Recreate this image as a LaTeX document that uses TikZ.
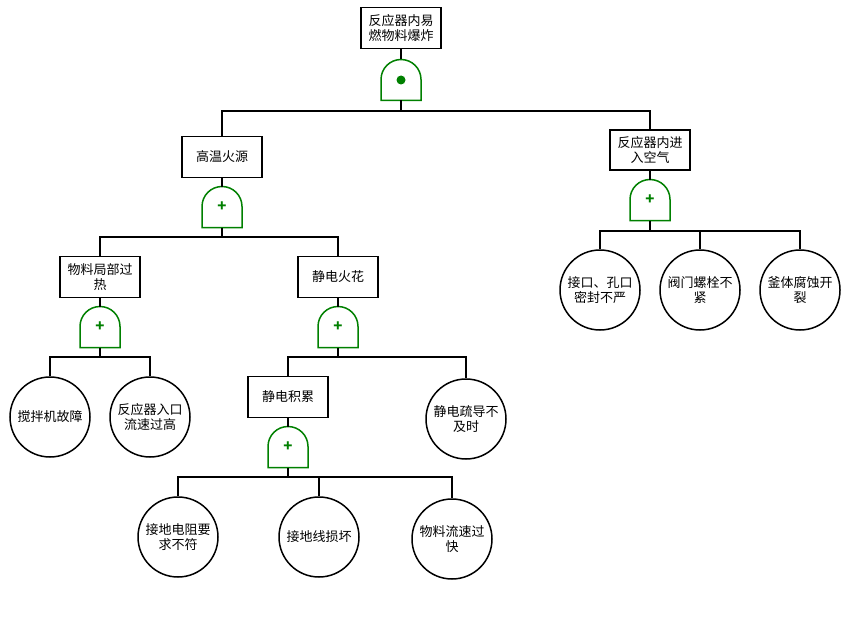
\documentclass[tikz,border=0pt]{standalone}
\usepackage{fontspec}
\setmainfont{Noto Sans CJK SC}
\begin{document}
\begin{tikzpicture}[x=1pt,y=1pt,
  line width=1.5pt,
  box/.style={draw=black,fill=white,minimum width=80pt,minimum height=41pt,inner sep=1pt,align=center,font=\fontsize{13}{15}\selectfont},
  evt/.style={draw=black,fill=white,circle,minimum size=80pt,inner sep=0pt,align=center,font=\fontsize{13}{15}\selectfont},
  gateline/.style={draw=green!50!black,line width=1.5pt,fill=white},
  orgate/.pic={
    \path[gateline] (-20,-20.5) -- (-20,0.5) arc[start angle=180,end angle=0,radius=20] -- (20,-20.5) -- cycle;
    \node[text=green!50!black,font=\bfseries\fontsize{15}{15}\selectfont,inner sep=0pt] at (0,0) {+};
    \coordinate (-out) at (0,20.5);
    \coordinate (-in) at (0,-20.5);
  },
  andgate/.pic={
    \path[gateline] (-20,-20.5) -- (-20,0.5) arc[start angle=180,end angle=0,radius=20] -- (20,-20.5) -- cycle;
    \fill[green!50!black] (0,0) circle[radius=4.5];
    \coordinate (-out) at (0,20.5);
    \coordinate (-in) at (0,-20.5);
  }]
\useasboundingbox (0,0) rectangle (850,-639);
\fill[white] (0,0) rectangle (850,-639);

% top
\node[box] (T) at (401,-28) {反应器内易\\燃物料爆炸};
\pic (G0) at (401,-80) {andgate};
\coordinate (G0-bus) at (401,-111);

\node[box] (A) at (222,-157) {高温火源};
\pic (G1) at (222,-207) {orgate};
\coordinate (G1-bus) at (222,-237);

\node[box,minimum height=40pt] (B) at (650,-150) {反应器内进\\入空气};
\pic (G2) at (650,-200) {orgate};
\coordinate (G2-bus) at (650,-231);

\node[box] (C) at (100,-277) {物料局部过\\热};
\pic (G3) at (100,-327) {orgate};
\coordinate (G3-bus) at (100,-357);

\node[box] (D) at (338,-277) {静电火花};
\pic (G4) at (338,-327) {orgate};
\coordinate (G4-bus) at (338,-357);

\node[box] (E) at (288,-397) {静电积累};
\pic (G5) at (288,-447) {orgate};
\coordinate (G5-bus) at (288,-477);

\node[evt] (c1) at (50,-417) {搅拌机故障};
\node[evt] (c2) at (150,-417) {反应器入口\\流速过高};
\node[evt] (c3) at (466,-419) {静电疏导不\\及时};
\node[evt] (c4) at (178,-537) {接地电阻要\\求不符};
\node[evt] (c5) at (319,-537) {接地线损坏};
\node[evt] (c6) at (452,-539) {物料流速过\\快};
\node[evt] (c7) at (600,-290) {接口、孔口\\密封不严};
\node[evt] (c8) at (700,-290) {阀门螺栓不\\紧};
\node[evt] (c9) at (800,-290) {釜体腐蚀开\\裂};

% connectors
\draw (T.south) -- (G0-out);
\draw (G0-in) -- (G0-bus);
\draw (A.north) |- (G0-bus) -| (B.north);

\draw (A.south) -- (G1-out);
\draw (G1-in) -- (G1-bus);
\draw (C.north) |- (G1-bus) -| (D.north);

\draw (B.south) -- (G2-out);
\draw (G2-in) -- (G2-bus);
\draw (c7.north) |- (G2-bus) -| (c9.north);
\draw (c8.north) -- (c8.north |- G2-bus);

\draw (C.south) -- (G3-out);
\draw (G3-in) -- (G3-bus);
\draw (c1.north) |- (G3-bus) -| (c2.north);

\draw (D.south) -- (G4-out);
\draw (G4-in) -- (G4-bus);
\draw (E.north) |- (G4-bus) -| (c3.north);

\draw (E.south) -- (G5-out);
\draw (G5-in) -- (G5-bus);
\draw (c4.north) |- (G5-bus) -| (c6.north);
\draw (c5.north) -- (c5.north |- G5-bus);
\end{tikzpicture}
\end{document}
